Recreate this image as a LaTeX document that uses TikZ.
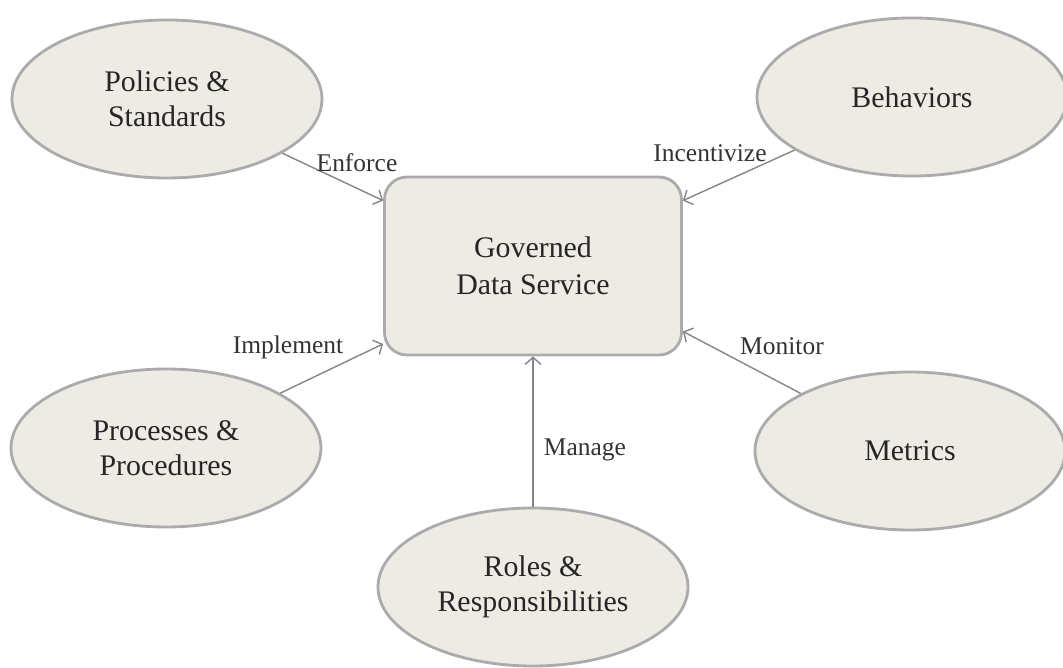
\documentclass[tikz,border=0pt]{standalone}
\usepackage{fontspec}
\setmainfont{Liberation Serif}
\usetikzlibrary{shapes.geometric,arrows.meta}
\definecolor{oval}{HTML}{EDEBE3}
\definecolor{rim}{HTML}{ABABAB}
\definecolor{wire}{HTML}{858585}
\begin{document}
\begin{tikzpicture}[x=0.2mm,y=-0.2mm,
 topic/.style={ellipse,draw=rim,line width=1.6pt,fill=oval,minimum width=6.2cm,minimum height=3.16cm,align=center,font=\fontsize{17}{20}\selectfont,text=black!85},
 hub/.style={rectangle,rounded corners=0.45cm,draw=rim,line width=1.6pt,fill=oval,minimum width=5.94cm,minimum height=3.56cm,align=center,font=\fontsize{17}{21}\selectfont,text=black!85},
 link/.style={draw=wire,line width=0.8pt,-{Straight Barb[length=4pt,width=9pt]}},
 verb/.style={font=\fontsize{14.5}{17}\selectfont,text=black!80,inner sep=1pt}]
 \useasboundingbox (0,0) rectangle (1063,668);

 \node[hub] (gds) at (533,266) {Governed\\Data Service};
 \node[topic] (pol) at (167,99) {Policies \&\\Standards};
 \node[topic] (beh) at (912,97) {Behaviors};
 \node[topic] (pro) at (166,448) {Processes \&\\Procedures};
 \node[topic] (met) at (910,451) {Metrics};
 \node[topic] (rol) at (533,587) {Roles \&\\Responsibilities};

 \draw[link] (pol) -- ([yshift=-0.5cm]gds.north west);
 \draw[link] (beh) -- ([yshift=-0.5cm]gds.north east);
 \draw[link] (pro) -- ([yshift=0.25cm]gds.south west);
 \draw[link] (met) -- ([yshift=0.5cm]gds.south east);
 \draw[link] (rol) -- (gds);

 \node[verb] (enf) at (357,163) {Enforce};
 \node[verb] (inc) at (710,153) {Incentivize};
 \node[verb] (imp) at (288,347) {Implement};
 \node[verb] (mon) at (782,346) {Monitor};
 \node[verb] (man) at (585,450) {Manage};
\end{tikzpicture}
\end{document}
